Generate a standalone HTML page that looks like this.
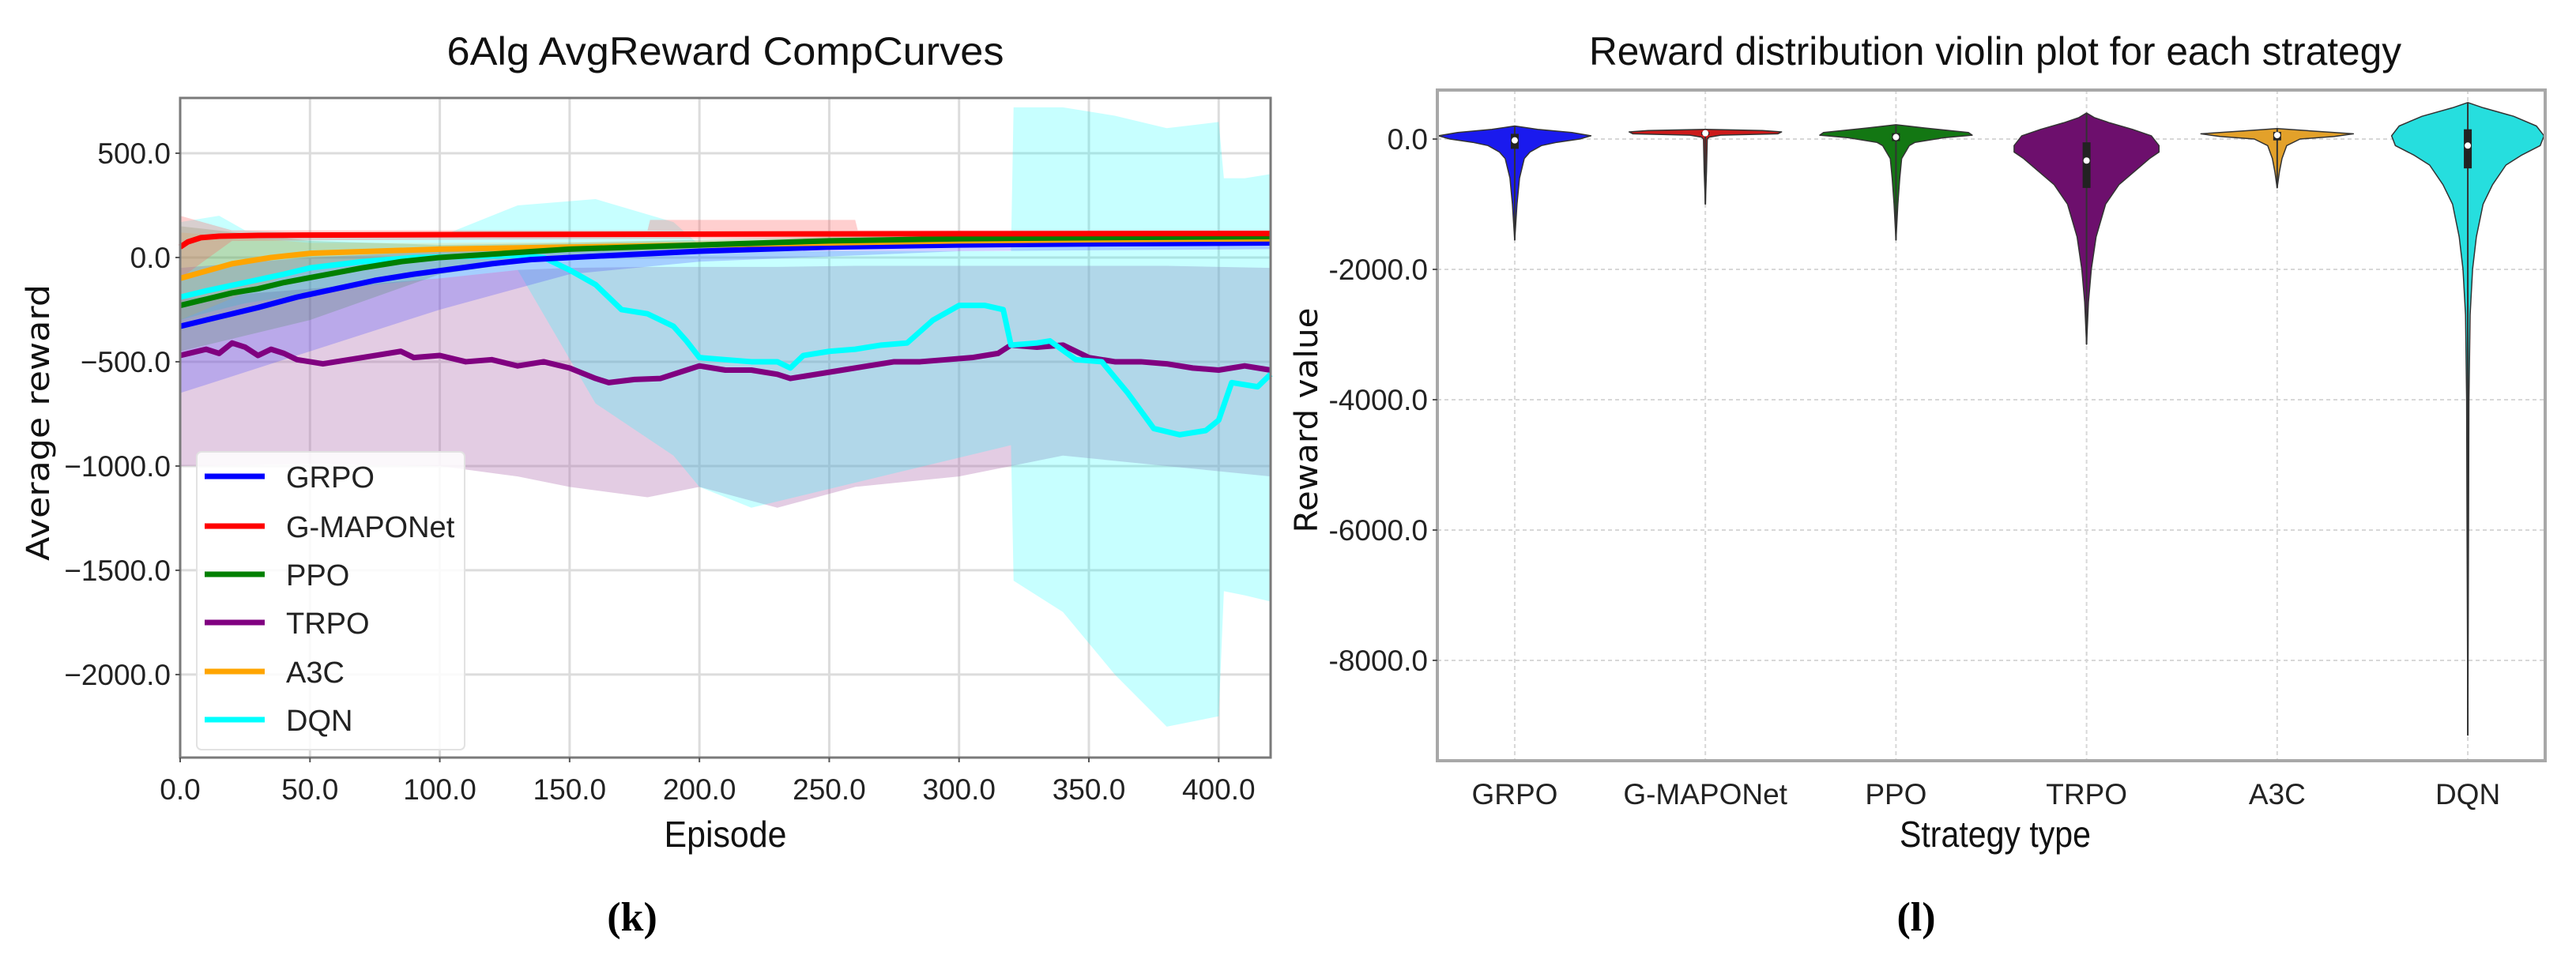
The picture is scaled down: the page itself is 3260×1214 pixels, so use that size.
<!DOCTYPE html>
<html><head><meta charset="utf-8"><style>
html,body{margin:0;padding:0;background:#fff;}
svg{display:block;font-family:"Liberation Sans",sans-serif;}
</style></head><body>
<svg id="fig" width="3260" height="1214" viewBox="0 0 3260 1214" xmlns="http://www.w3.org/2000/svg"></svg>
<script>
// ---------- Left chart data ----------
const lineNames = ["GRPO","G-MAPONet","PPO","TRPO","A3C","DQN"];
const lineColors = ["#0000ff","#ff0000","#008000","#800080","#ffa500","#00ffff"];
const grpoX = [0,10,20,30,45,60,75,90,105,120,135,150,175,200,250,300,350,420];
const grpoY = [-330,-300,-270,-240,-190,-150,-110,-80,-55,-30,-10,0,15,30,50,60,65,70];
const gmapX = [0,3,8,15,30,60,120,200,300,420];
const gmapY = [50,75,95,102,106,108,110,112,114,115];
const ppoX = [0,10,20,30,40,55,70,85,100,125,150,200,250,300,350,420];
const ppoY = [-230,-200,-170,-150,-120,-85,-50,-20,0,20,40,60,80,90,95,100];
const a3cX = [0,10,20,35,50,75,100,150,200,250,300,350,420];
const a3cY = [-100,-65,-30,0,20,30,40,50,60,70,80,85,90];
const dqnX = [0,10,25,40,50,70,90,110,130,140,150,160,170,180,190,195,200,210,220,230,235,240,250,260,270,280,290,300,310,317,320,330,335,345,355,365,375,385,395,400,405,415,420];
const dqnY = [-190,-160,-120,-80,-50,-20,0,5,10,0,-60,-130,-250,-270,-330,-400,-480,-490,-500,-500,-530,-470,-450,-440,-420,-410,-300,-230,-230,-250,-420,-410,-400,-490,-500,-650,-820,-850,-830,-780,-600,-620,-560];
const trpoX = [0,5,10,15,20,25,30,35,40,45,55,65,75,85,90,100,110,120,130,140,150,160,165,175,185,195,200,210,220,230,235,245,255,265,275,285,295,305,315,320,330,340,350,360,370,380,390,400,410,420];
const trpoY = [-470,-455,-440,-460,-410,-430,-470,-440,-460,-490,-510,-490,-470,-450,-480,-470,-500,-490,-520,-500,-530,-580,-600,-585,-580,-540,-520,-540,-540,-560,-580,-560,-540,-520,-500,-500,-490,-480,-460,-420,-430,-420,-480,-500,-500,-510,-530,-540,-520,-540];
// bands: x, upper, lower
const bandTrpoX = [0,50,100,130,150,180,200,230,260,300,320,340,380,420];
const bandTrpoHi = [-200,-150,-100,-60,-50,-45,-45,-45,-40,-40,-40,-40,-40,-50];
const bandTrpoLo = [-1000,-990,-1000,-1050,-1100,-1150,-1100,-1200,-1100,-1050,-1000,-950,-1000,-1050];
const bandDqnX = [0,15,25,60,100,130,160,190,200,220,320,321,340,360,380,400,402,410,420];
const bandDqnHi = [170,200,130,110,100,250,280,170,60,30,30,720,720,680,620,650,380,380,400];
const bandDqnLo = [-300,-250,-220,-150,-100,-60,-700,-950,-1100,-1200,-900,-1550,-1700,-2000,-2250,-2200,-1600,-1620,-1650];
const bandGrpoX = [0,50,100,150,200,300,420];
const bandGrpoHi = [-50,0,30,50,70,80,90];
const bandGrpoLo = [-650,-450,-250,-80,-20,30,40];
const bandPpoX = [0,50,100,150,250,420];
const bandPpoHi = [150,80,60,70,100,110];
const bandPpoLo = [-450,-300,-80,10,50,80];
const bandA3cX = [0,50,100,200,420];
const bandA3cHi = [120,70,70,80,100];
const bandA3cLo = [-300,-40,10,40,70];
const bandGmX = [0,20,180,181,260,261,420];
const bandGmHi = [200,130,130,180,180,130,130];
const bandGmLo = [-100,80,90,90,90,95,100];
const xTicks = [0,50,100,150,200,250,300,350,400];
const yTicksL = [500,0,-500,-1000,-1500,-2000];

// ---------- Right chart data ----------
const cats = ["GRPO","G-MAPONet","PPO","TRPO","A3C","DQN"];
const violinColors = ["#1a1aee","#cc1a1a","#137713","#6d0f6d","#e3a12a","#26dede"];
const vGrpoV = [200,150,100,50,0,-50,-100,-200,-300,-600,-1000,-1550];
const vGrpoW = [0,0.12,0.3,0.4,0.34,0.22,0.14,0.08,0.05,0.025,0.012,0];
const vGmapV = [150,130,110,80,60,30,0,-500,-1000];
const vGmapW = [0,0.3,0.4,0.38,0.08,0.02,0.01,0.006,0];
const vPpoV = [220,170,100,60,20,-50,-100,-300,-600,-1000,-1550];
const vPpoW = [0,0.15,0.38,0.4,0.25,0.1,0.07,0.03,0.02,0.01,0];
const vTrpoV = [400,330,250,150,50,-100,-200,-300,-500,-700,-1000,-1500,-2000,-2500,-3150];
const vTrpoW = [0,0.04,0.12,0.24,0.34,0.38,0.38,0.33,0.25,0.17,0.1,0.05,0.025,0.01,0];
const vA3cV = [160,120,80,40,0,-100,-300,-500,-750];
const vA3cW = [0,0.2,0.4,0.3,0.12,0.05,0.025,0.012,0];
const vDqnV = [560,480,350,200,50,-100,-250,-400,-700,-1000,-1500,-2000,-2700,-4000,-6000,-9150];
const vDqnW = [0,0.08,0.24,0.36,0.4,0.38,0.28,0.2,0.13,0.08,0.045,0.025,0.012,0.006,0.004,0];
const boxQ1 = [-150,60,-30,-750,-20,-450];
const boxQ3 = [80,110,90,-50,110,150];
const boxMed = [-20,90,30,-330,60,-100];
const yTicksR = [0,-2000,-4000,-6000,-8000];

const NS="http://www.w3.org/2000/svg";
const svg=document.getElementById('fig');
function el(tag,attrs,parent,text){const e=document.createElementNS(NS,tag);for(const k in attrs)e.setAttribute(k,attrs[k]);if(text!==undefined)e.textContent=text;(parent||svg).appendChild(e);return e;}

// ===== Left chart =====
const L={x0:228,x1:1608,y0:124,y1:959,xmin:0,xmax:420,ymin:-2398,ymax:765};
const lx=v=>L.x0+(v-L.xmin)/(L.xmax-L.xmin)*(L.x1-L.x0);
const ly=v=>L.y1-(v-L.ymin)/(L.ymax-L.ymin)*(L.y1-L.y0);
const gL=el('g',{});  
xTicks.forEach(t=>{const g=el('line',{x1:lx(t),x2:lx(t),y1:L.y0,y2:L.y1,stroke:'#dcdcdc','stroke-width':3},gL);});
yTicksL.forEach(t=>{const g=el('line',{x1:L.x0,x2:L.x1,y1:ly(t),y2:ly(t),stroke:'#dcdcdc','stroke-width':3},gL);});
function band(xs,hi,lo,color,op,name){
  let d='M'+xs.map((x,i)=>lx(x)+','+ly(hi[i])).join('L');
  for(let i=xs.length-1;i>=0;i--)d+='L'+lx(xs[i])+','+ly(lo[i]);
  const p=el('path',{d:d+'Z',fill:color,'fill-opacity':op,stroke:'none'},gL);
  
}
band(bandTrpoX,bandTrpoHi,bandTrpoLo,'#b06cb0',0.35,'trpo-band');
band(bandDqnX,bandDqnHi,bandDqnLo,'#00ffff',0.22,'dqn-band');
band(bandGrpoX,bandGrpoHi,bandGrpoLo,'#4040ff',0.25,'grpo-band');
band(bandPpoX,bandPpoHi,bandPpoLo,'#308030',0.2,'ppo-band');
band(bandA3cX,bandA3cHi,bandA3cLo,'#ffa500',0.15,'a3c-band');
band(bandGmX,bandGmHi,bandGmLo,'#ff6060',0.3,'gmaponet-band');
function line(xs,ys,color,name){
  const p=el('path',{d:'M'+xs.map((x,i)=>lx(x)+','+ly(ys[i])).join('L'),fill:'none',stroke:color,'stroke-width':7,'stroke-linejoin':'round'},gL);
  
}
line(trpoX,trpoY,lineColors[3],'trpo-line');
line(dqnX,dqnY,lineColors[5],'dqn-line');
line(grpoX,grpoY,lineColors[0],'grpo-line');
line(a3cX,a3cY,lineColors[4],'a3c-line');
line(ppoX,ppoY,lineColors[2],'ppo-line');
line(gmapX,gmapY,lineColors[1],'gmaponet-line');
const fr=el('rect',{x:L.x0,y:L.y0,width:L.x1-L.x0,height:L.y1-L.y0,fill:'none',stroke:'#7a7a7a','stroke-width':3},gL);

xTicks.forEach(t=>{el('line',{x1:lx(t),x2:lx(t),y1:L.y1,y2:L.y1+6,stroke:'#555','stroke-width':2},gL);
  const tx=el('text',{x:lx(t),y:L.y1+53,'font-size':37,'text-anchor':'middle',fill:'#222'},gL,t.toFixed(1));
  });
yTicksL.forEach(t=>{el('line',{x1:L.x0-6,x2:L.x0,y1:ly(t),y2:ly(t),stroke:'#555','stroke-width':2},gL);
  const tx=el('text',{x:L.x0-12,y:ly(t)+13,'font-size':37,'text-anchor':'end',fill:'#222'},gL,(t<0?'\u2212'+(-t).toFixed(1):t.toFixed(1)));
  });
let t1=el('text',{x:918,y:82,'font-size':50,'text-anchor':'middle',textLength:705,lengthAdjust:'spacingAndGlyphs',fill:'#111'},gL,'6Alg AvgReward CompCurves');

let xl=el('text',{x:918,y:1072,'font-size':46,'text-anchor':'middle',textLength:155,lengthAdjust:'spacingAndGlyphs',fill:'#111'},gL,'Episode');

let yl=el('text',{x:0,y:0,'font-size':40,'text-anchor':'middle',textLength:350,lengthAdjust:'spacingAndGlyphs',fill:'#111',transform:'translate(62,535) rotate(-90)',style:'font-family:"DejaVu Sans",sans-serif'},gL,'Average reward');

// legend
const lg=el('g',{},gL);
el('rect',{x:249,y:572,width:339,height:377,rx:6,fill:'#fff','fill-opacity':0.85,stroke:'#e2e2e2','stroke-width':2},lg);
const legY=[603,666,727,788,850,911];
lineNames.forEach((n,i)=>{const e=el('g',{},lg);
  el('line',{x1:259,x2:335,y1:legY[i],y2:legY[i],stroke:lineColors[i],'stroke-width':7},e);
  el('text',{x:362,y:legY[i]+14,'font-size':38,fill:'#222'},e,n);});
let k=el('text',{x:800,y:1178,'font-size':52,'text-anchor':'middle','font-weight':'bold',fill:'#000',style:'font-family:"Liberation Serif",serif'},svg,'(k)');


// ===== Right chart =====
const R={x0:1819,x1:3221,y0:114,y1:963,xmin:-0.406,xmax:5.406,ymin:-9540,ymax:752};
const rx=v=>R.x0+(v-R.xmin)/(R.xmax-R.xmin)*(R.x1-R.x0);
const ry=v=>R.y1-(v-R.ymin)/(R.ymax-R.ymin)*(R.y1-R.y0);
const sc=(R.x1-R.x0)/(R.xmax-R.xmin);
const gR=el('g',{});
cats.forEach((c,i)=>{el('line',{x1:rx(i),x2:rx(i),y1:R.y0,y2:R.y1,stroke:'#d8d8d8','stroke-width':2,'stroke-dasharray':'5,4'},gR);});
yTicksR.forEach(t=>{el('line',{x1:R.x0,x2:R.x1,y1:ry(t),y2:ry(t),stroke:'#d8d8d8','stroke-width':2,'stroke-dasharray':'5,4'},gR);});
const vVals=[vGrpoV,vGmapV,vPpoV,vTrpoV,vA3cV,vDqnV];
const vWid=[vGrpoW,vGmapW,vPpoW,vTrpoW,vA3cW,vDqnW];
cats.forEach((c,i)=>{
  const vs=vVals[i],ws=vWid[i];
  let d='M'+vs.map((v,j)=>(rx(i)+ws[j]*sc).toFixed(1)+','+ry(v).toFixed(1)).join('L');
  for(let j=vs.length-1;j>=0;j--)d+='L'+(rx(i)-ws[j]*sc).toFixed(1)+','+ry(vs[j]).toFixed(1);
  const p=el('path',{d:d+'Z',fill:violinColors[i],stroke:'#333','stroke-width':1.5,'stroke-linejoin':'round'},gR);
  
  const w=el('line',{x1:rx(i),x2:rx(i),y1:ry(vs[0]),y2:ry(vs[vs.length-1]),stroke:'#333','stroke-width':2},gR);
  
  const b=el('rect',{x:rx(i)-5,y:ry(boxQ3[i]),width:10,height:ry(boxQ1[i])-ry(boxQ3[i]),fill:'#222'},gR);
  
  const m=el('circle',{cx:rx(i),cy:ry(boxMed[i]),r:4,fill:'#fff'},gR);
  
  const tx=el('text',{x:rx(i),y:1018,'font-size':37,'text-anchor':'middle',fill:'#222'},gR,c);
  
});
el('rect',{x:R.x0,y:R.y0,width:R.x1-R.x0,height:R.y1-R.y0,fill:'none',stroke:'#a8a8a8','stroke-width':4},gR);
yTicksR.forEach(t=>{el('line',{x1:R.x0-6,x2:R.x0,y1:ry(t),y2:ry(t),stroke:'#555','stroke-width':2},gR);
  const tx=el('text',{x:R.x0-12,y:ry(t)+13,'font-size':37,'text-anchor':'end',fill:'#222'},gR,(t<0?'-'+(-t).toFixed(1):t.toFixed(1)));
  });
let t2=el('text',{x:2525,y:82,'font-size':50,'text-anchor':'middle',textLength:1028,lengthAdjust:'spacingAndGlyphs',fill:'#111'},gR,'Reward distribution violin plot for each strategy');

let xl2=el('text',{x:2525,y:1072,'font-size':46,'text-anchor':'middle',textLength:242,lengthAdjust:'spacingAndGlyphs',fill:'#111'},gR,'Strategy type');

let yl2=el('text',{x:0,y:0,'font-size':40,'text-anchor':'middle',textLength:285,lengthAdjust:'spacingAndGlyphs',fill:'#111',transform:'translate(1667,532) rotate(-90)',style:'font-family:"DejaVu Sans",sans-serif'},gR,'Reward value');

let l2=el('text',{x:2425,y:1178,'font-size':52,'text-anchor':'middle','font-weight':'bold',fill:'#000',style:'font-family:"Liberation Serif",serif'},svg,'(l)');

</script>
</body></html>
